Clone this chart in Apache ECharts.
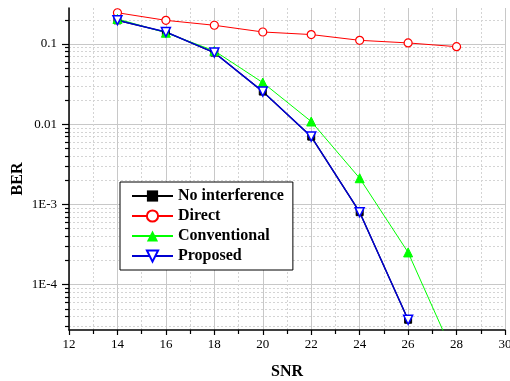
<!DOCTYPE html>
<html>
<head>
<meta charset="utf-8">
<script src="https://cdn.jsdelivr.net/npm/echarts@6/dist/echarts.min.js"></script>
<style>
html,body{margin:0;padding:0;background:#fff;}
#chart{width:510px;height:381px;}
</style>
</head>
<body>
<div id="chart"></div>
<script>
var snr = [14, 16, 18, 20, 22, 24, 26, 28];
var noInterference = [0.197, 0.141, 0.078, 0.0255, 0.0070, 0.00080, 0.0000365, null];
var direct = [0.245, 0.197, 0.171, 0.141, 0.131, 0.111, 0.103, 0.0925];
var conventional = [0.205, 0.138, 0.082, 0.0330, 0.0108, 0.00212, 0.000252, 0.0000112];
var proposed = [0.198, 0.141, 0.078, 0.0255, 0.0070, 0.00080, 0.0000365, null];
var yTickValues = [1e-4, 1e-3, 1e-2, 1e-1];
var yTickLabels = ['1E-4', '1E-3', '0.01', '0.1'];
var yMin = 2.72e-5, yMax = 0.2807;

function pairs(vals) {
  var out = [];
  for (var i = 0; i < snr.length; i++) if (vals[i] != null) out.push([snr[i], vals[i]]);
  return out;
}
var minorVals = [];
for (var e = -5; e <= 0; e++) {
  for (var m = 2; m <= 9; m++) {
    var v = m * Math.pow(10, e);
    if (v > yMin && v < yMax) minorVals.push(v);
  }
}
var font = '"Liberation Serif", "Times New Roman", serif';
var chart = echarts.init(document.getElementById('chart'));
chart.setOption({
  animation: false,
  backgroundColor: '#fff',
  grid: {left: 69, right: 5, top: 8, bottom: 51, containLabel: false, outerBoundsMode: 'none'},
  legend: {
    orient: 'vertical', left: 120, top: 182,
    backgroundColor: '#fff', borderColor: '#000', borderWidth: 1,
    padding: [6, 9, 6, 11], itemGap: 4, itemWidth: 41, itemHeight: 14,
    textStyle: {fontFamily: font, fontWeight: 'bold', fontSize: 16, color: '#000'},
    data: ['No interference', 'Direct', 'Conventional', 'Proposed']
  },
  xAxis: {
    type: 'value', min: 12, max: 30, interval: 2,
    name: 'SNR', nameLocation: 'middle', nameGap: 34,
    nameTextStyle: {fontFamily: font, fontWeight: 'bold', fontSize: 16, color: '#000', verticalAlign: 'top', padding: [0, 0, 0, 0]},
    axisLine: {lineStyle: {color: '#000', width: 1.5}},
    axisTick: {show: true, inside: false, length: 5, lineStyle: {color: '#000', width: 1.2}},
    minorTick: {show: true, splitNumber: 2, length: 4, lineStyle: {color: '#000', width: 1.2}},
    axisLabel: {fontFamily: font, fontSize: 13, color: '#000', margin: 8},
    splitLine: {show: true, lineStyle: {color: '#c8c8c8', width: 1}},
    minorSplitLine: {show: true, lineStyle: {color: '#d4d4d4', width: 1, type: [2, 2]}}
  },
  yAxis: [{
    type: 'log', min: yMin, max: yMax, position: 'left',
    name: 'BER', nameLocation: 'middle', nameGap: 43, nameRotate: 90, nameMoveOverlap: false,
    nameTextStyle: {fontFamily: font, fontWeight: 'bold', fontSize: 16, color: '#000', padding: [0, 20, 0, 0]},
    axisLine: {show: true, lineStyle: {color: '#000', width: 1.5}},
    axisTick: {show: true, inside: false, length: 7, customValues: yTickValues, lineStyle: {color: '#000', width: 1.2}},
    axisLabel: {
      fontFamily: font, fontSize: 13, color: '#000', margin: 12,
      customValues: yTickValues,
      formatter: function (v) {
        for (var i = 0; i < yTickValues.length; i++) {
          if (Math.abs(Math.log10(v) - Math.log10(yTickValues[i])) < 1e-6) return yTickLabels[i];
        }
        return '';
      }
    },
    splitLine: {show: true, lineStyle: {color: '#c8c8c8', width: 1}}
  }, {
    type: 'log', min: yMin, max: yMax, position: 'left', offset: 0,
    axisLine: {show: false},
    axisTick: {show: true, inside: false, length: 4, customValues: minorVals, lineStyle: {color: '#000', width: 1.2}},
    axisLabel: {show: false},
    splitLine: {show: true, lineStyle: {color: '#d4d4d4', width: 1, type: [2, 2]}}
  }],
  series: [{
    name: 'No interference', type: 'line', yAxisIndex: 0,
    data: pairs(noInterference),
    symbol: 'rect', symbolSize: 7,
    lineStyle: {color: '#000', width: 1.2},
    itemStyle: {color: '#000', borderColor: '#000'}
  }, {
    name: 'Direct', type: 'line', yAxisIndex: 0,
    data: pairs(direct),
    symbol: 'circle', symbolSize: 8,
    lineStyle: {color: '#ff0000', width: 1},
    itemStyle: {color: '#fff', borderColor: '#ff0000', borderWidth: 1.2}
  }, {
    name: 'Conventional', type: 'line', yAxisIndex: 0,
    data: pairs(conventional),
    symbol: 'triangle', symbolSize: 9,
    lineStyle: {color: '#00ff00', width: 1},
    itemStyle: {color: '#00ff00', borderColor: '#00ff00'}
  }, {
    name: 'Proposed', type: 'line', yAxisIndex: 0,
    data: pairs(proposed),
    symbol: 'triangle', symbolSize: 9, symbolRotate: 180,
    lineStyle: {color: '#0000d0', width: 1.5},
    itemStyle: {color: '#fff', borderColor: '#0000ff', borderWidth: 1.5}
  }]
});
</script>
</body>
</html>
